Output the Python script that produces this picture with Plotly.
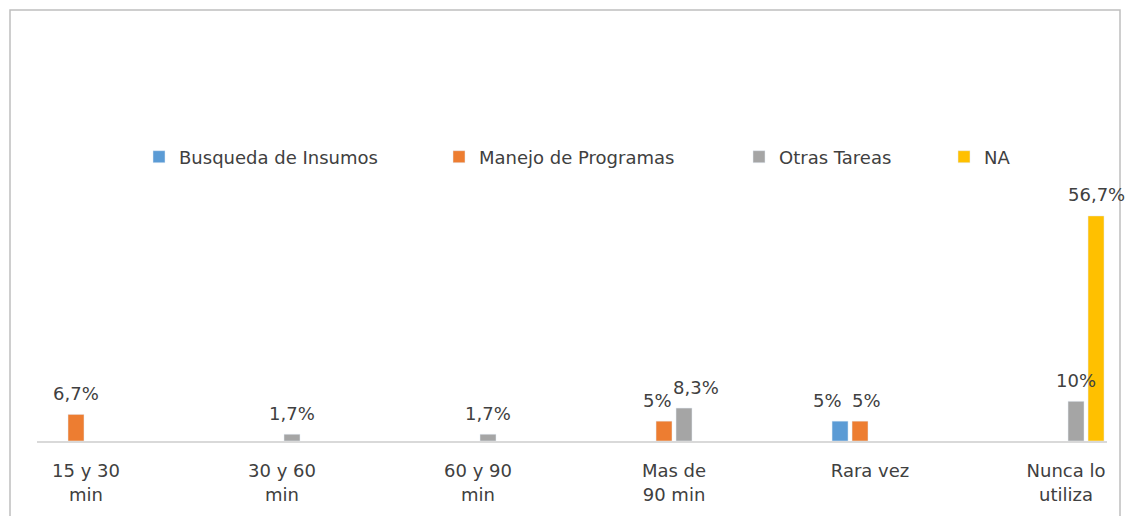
import plotly.graph_objects as go

categories = ["15 y 30<br>min", "30 y 60<br>min", "60 y 90<br>min", "Mas de<br>90 min", "Rara vez", "Nunca lo<br>utiliza"]
busqueda = [None, None, None, None, 5, None]
manejo = [6.7, None, None, 5, 5, None]
otras = [None, 1.7, 1.7, 8.3, None, 10]
na = [None, None, None, None, None, 56.7]

series = [
    ("Busqueda de Insumos", busqueda, "#5B9BD5"),
    ("Manejo de Programas", manejo, "#ED7D31"),
    ("Otras Tareas", otras, "#A5A5A5"),
    ("NA", na, "#FFC000"),
]

def fmt(v):
    return f"{v:g}".replace(".", ",") + "%"

FONT = "DejaVu Sans"
FS = 18
TXT = "#404040"
W, H = 1131, 516
L, R, T, B = 37, 24, 200, 75
BARGAP = 0.592
SLOT = (1 - BARGAP) / len(series)

# per-label horizontal nudges (pixels) as in the reference
label_nudge = {(1, 3): -7, (2, 3): 12, (0, 4): -13, (1, 4): 6}
# legend square positions (pixels)
legend_px = [137, 437, 737, 942]

pw = W - L - R
ph = H - T - B
def px2x(p):
    return (p - L) / pw
def px2y(p):
    return (H - B - p) / ph

fig = go.Figure()
annotations = []
for i, (name, vals, col) in enumerate(series):
    lg = "legend" if i == 0 else f"legend{i + 1}"
    fig.add_trace(go.Bar(
        name=name, x=list(range(len(categories))), y=vals, marker_color=col,
        legend=lg, showlegend=True,
    ))
    for j, v in enumerate(vals):
        if v is None:
            continue
        annotations.append(dict(
            x=j + (i - (len(series) - 1) / 2) * SLOT, y=v, xref="x", yref="y",
            text=fmt(v), showarrow=False, yanchor="middle", xanchor="center",
            yshift=21, xshift=label_nudge.get((i, j), 0),
            font=dict(family=FONT, size=FS, color=TXT),
        ))

fig.add_shape(type="rect", xref="paper", yref="paper",
              x0=px2x(10), x1=px2x(1120), y0=px2y(530), y1=px2y(10),
              line=dict(color="#BFBFBF", width=1.5), fillcolor="rgba(0,0,0,0)", layer="below")

legends = {}
for i, p in enumerate(legend_px):
    key = "legend" if i == 0 else f"legend{i + 1}"
    legends[key] = dict(orientation="h", x=px2x(p + 2), xanchor="left", y=px2y(157), yanchor="middle",
                        font=dict(family=FONT, size=FS, color=TXT), itemwidth=30,
                        bgcolor="rgba(0,0,0,0)")

fig.update_layout(
    width=W, height=H,
    margin=dict(l=L, r=R, t=T, b=B),
    paper_bgcolor="white", plot_bgcolor="white",
    barmode="group", bargap=BARGAP, bargroupgap=0.2,
    annotations=annotations,
    font=dict(family=FONT, size=FS, color=TXT),
    xaxis=dict(tickmode="array", tickvals=list(range(len(categories))), ticktext=categories,
               range=[-0.25, 5.209], showline=True, linecolor="#D9D9D9", linewidth=1.5,
               showgrid=False, zeroline=False, ticks="", ticklabelstandoff=13,
               tickfont=dict(family=FONT, size=FS, color=TXT)),
    yaxis=dict(range=[0, ph / 3.97], showgrid=False, zeroline=False, showticklabels=False,
               showline=False),
    **legends,
)

fig.write_html("out.html", config={"displayModeBar": False},
               post_script="document.body.style.margin='0';")
